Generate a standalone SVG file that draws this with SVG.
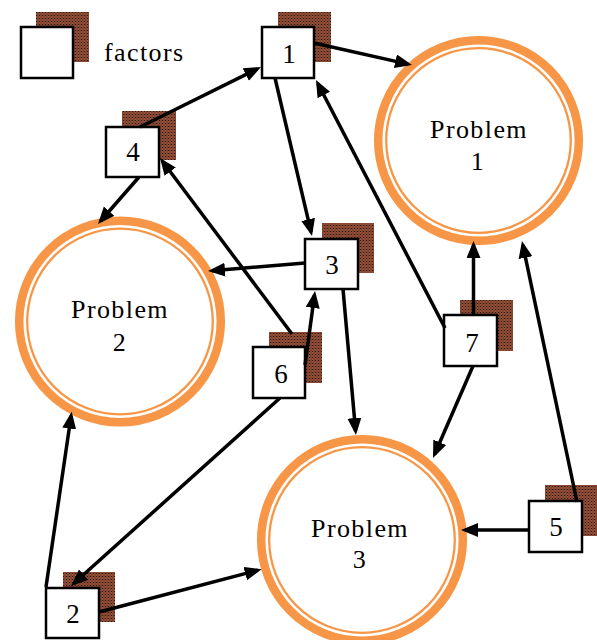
<svg xmlns="http://www.w3.org/2000/svg" width="597" height="640" viewBox="0 0 597 640">
<defs>
<pattern id="dots" width="3" height="3" patternUnits="userSpaceOnUse">
<rect width="3" height="3" fill="#9a5038"/>
<rect x="0" y="0" width="1" height="1" fill="#2a1a14"/>
<rect x="1.5" y="1.5" width="1" height="1" fill="#3a2418"/>
<rect x="1.5" y="0" width="1" height="1" fill="#6a3a2a"/>
</pattern>
<marker id="ah" markerUnits="userSpaceOnUse" markerWidth="20" markerHeight="15" refX="13" refY="7" orient="auto">
<path d="M0,0 L17,7 L0,14 Z" fill="#000"/>
</marker>
<style>
.sh{fill:url(#dots)}
.bx{fill:#fff;stroke:#000;stroke-width:2.5}
.num{font-family:"Liberation Serif","Times New Roman",serif;font-size:27px;text-anchor:middle;fill:#000}
.lbl{font-family:"Liberation Serif","Times New Roman",serif;font-size:26px;letter-spacing:1.4px;text-anchor:middle;fill:#000}
.ro{fill:none;stroke:#f79646;stroke-width:8.5}
.ri{fill:#fff;stroke:#f79646;stroke-width:2.3}
.cn line{stroke:#000;stroke-width:3.5;marker-end:url(#ah)}
</style>
</defs>
<rect width="597" height="640" fill="#fff"/>

<g id="legend">
<rect class="sh" x="36" y="12" width="53" height="50"/>
<rect class="bx" x="21" y="27" width="52" height="51"/>
<text x="104" y="61" font-family="Liberation Serif, Times New Roman, serif" font-size="26" letter-spacing="1.4">factors</text>
</g>

<g id="problem1">
<circle class="ro" cx="478.5" cy="140.5" r="100.3"/>
<circle class="ri" cx="478.5" cy="140.5" r="92.3"/>
<text class="lbl" x="479" y="138">Problem</text>
<text class="lbl" x="478" y="170">1</text>
</g>
<g id="problem2">
<circle class="ro" cx="120" cy="321.5" r="100.8"/>
<circle class="ri" cx="120" cy="321.5" r="92.8"/>
<text class="lbl" x="120" y="318">Problem</text>
<text class="lbl" x="120" y="351">2</text>
</g>
<g id="problem3">
<circle class="ro" cx="362" cy="540" r="100.8"/>
<circle class="ri" cx="362" cy="540" r="92.8"/>
<text class="lbl" x="360" y="537">Problem</text>
<text class="lbl" x="360" y="568">3</text>
</g>

<g id="factor1">
<rect class="sh" x="278" y="12" width="53" height="50"/>
<rect class="bx" x="262" y="27" width="52" height="51"/>
<text class="num" x="289" y="63">1</text>
</g>
<g id="factor2">
<rect class="sh" x="63" y="572" width="52" height="50"/>
<rect class="bx" x="46" y="588" width="53" height="50"/>
<text class="num" x="73" y="623">2</text>
</g>
<g id="factor3">
<rect class="sh" x="322" y="223" width="52" height="50"/>
<rect class="bx" x="305" y="239" width="53" height="50"/>
<text class="num" x="332" y="274">3</text>
</g>
<g id="factor4">
<rect class="sh" x="122" y="111" width="54" height="49"/>
<rect class="bx" x="106" y="127" width="53" height="50"/>
<text class="num" x="133" y="161">4</text>
</g>
<g id="factor5">
<rect class="sh" x="545" y="485" width="52" height="51"/>
<rect class="bx" x="529" y="501" width="53" height="51"/>
<text class="num" x="556" y="536">5</text>
</g>
<g id="factor6">
<rect class="sh" x="269" y="332" width="53" height="51"/>
<rect class="bx" x="253" y="347" width="52" height="51"/>
<text class="num" x="281" y="383">6</text>
</g>
<g id="factor7">
<rect class="sh" x="460" y="300" width="53" height="51"/>
<rect class="bx" x="444" y="315" width="53" height="51"/>
<text class="num" x="472" y="352">7</text>
</g>

<g id="connectors" class="cn">
<line x1="314" y1="43" x2="408.1" y2="64.1"/>
<line x1="140" y1="127" x2="257.4" y2="68.8"/>
<line x1="275" y1="78" x2="311.1" y2="232.1"/>
<line x1="445" y1="328" x2="317.8" y2="83.5"/>
<line x1="139" y1="177" x2="100.6" y2="221"/>
<line x1="292" y1="334" x2="162.4" y2="161.2"/>
<line x1="305" y1="263" x2="212" y2="270.7"/>
<line x1="305" y1="365" x2="314.5" y2="295"/>
<line x1="343" y1="289" x2="355.6" y2="431"/>
<line x1="473.5" y1="315" x2="473.5" y2="245"/>
<line x1="577" y1="502" x2="522.8" y2="244.9"/>
<line x1="473" y1="366" x2="434.6" y2="454.3"/>
<line x1="529" y1="530" x2="465" y2="530"/>
<line x1="280" y1="398" x2="74" y2="583.3"/>
<line x1="46" y1="587" x2="71.1" y2="415.7"/>
<line x1="99" y1="612" x2="257.8" y2="570.3"/>
</g>
</svg>
